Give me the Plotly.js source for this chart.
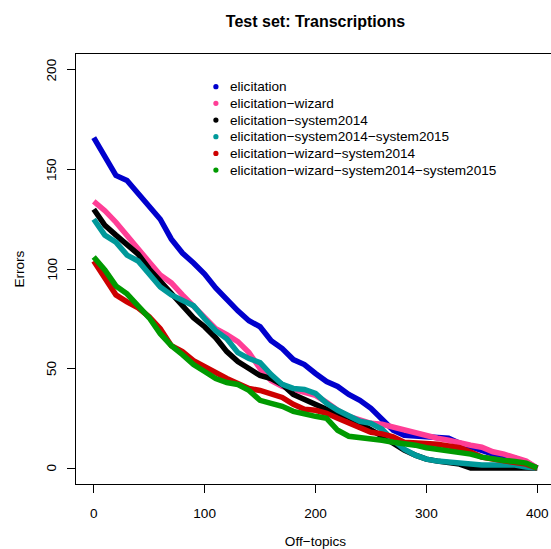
<!DOCTYPE html>
<html>
<head>
<meta charset="utf-8">
<script src="https://cdn.plot.ly/plotly-3.0.1.min.js"></script>
<style>
html, body { margin: 0; padding: 0; overflow: hidden; background: #fff; }
#chart { width: 560px; height: 549px; }
</style>
</head>
<body>
<div id="chart"></div>
<script>
// ---- data ----
const offTopics = [0,10,20,30,40,50,60,70,80,90,100,110,120,130,140,150,160,170,180,190,200,
                   210,220,230,240,250,260,270,280,290,300,310,320,330,340,350,360,370,380,390,400];

const seriesNames = [
  "elicitation",
  "elicitation−wizard",
  "elicitation−system2014",
  "elicitation−system2014−system2015",
  "elicitation−wizard−system2014",
  "elicitation−wizard−system2014−system2015"
];

const errElicitation = [166,156,147,144.5,138,131,125,115,108,103,97.5,90.5,84.5,79,74,71,64,60,54.5,52,47.5,
                        43.5,41,37,34,30,24.5,19,16.5,16,16,15.5,15,12.5,10.5,9,7,6,5,3,0];
const errWizard      = [134,129.3,123.5,116.5,110,103.5,97,93,87,81,75.5,70,67,63.5,58,50,44,41,39.5,38,36.5,
                        33,29,26,24,22.5,22,20.5,19.5,18,16,15,14,12.5,11.5,10.5,8.2,7,5.5,3.5,0];
const errSys2014     = [130,122,117,112.5,107.5,100,94,88,82.5,75.5,71,65.5,58.5,53.5,50,46.5,45,42,37,34.5,32,
                        29,27,25.5,22.5,19.5,16,12.5,9,6.5,4.5,3.5,3,2,0,0,0,0,0,0,0];
const errSys20142015 = [125,117,113.5,107,104,97,91,87,84,81.5,75,69,65,58,55,53,47,42,40,39.5,37.5,
                        32.5,29,26,23.5,22.5,19.5,14,9.5,6.5,4.5,3.5,3,2,1.5,1.5,1.5,1.5,1.5,0.5,0];
const errWizSys2014  = [104,95,87,83.5,80.5,76,70,61.5,58.5,54,51,47.5,45,42.5,40,39,37.5,35.5,32,29.5,29,
                        27.5,25,22.5,20,18,17.2,15.7,13,12.4,12.4,12,11.4,10.2,8,5.5,4.5,3.5,3,2,0];
const errWizSys20142015 = [106,99.5,91.5,87.5,81.5,75.5,67.5,61.5,57,52,48.5,45,43,42,39,34,32.5,31,28.5,27,26,
                        25,19,16,15.5,15,14,13,12.4,11.5,10.2,9.5,8.8,8.2,7,5.5,4.3,3.8,3.3,2.5,0];

const seriesValues = [errElicitation, errWizard, errSys2014, errSys20142015, errWizSys2014, errWizSys20142015];
const seriesColors = ["#0000CD", "#FF3E96", "#000000", "#00999A", "#CD0000", "#009A00"];

const xTicks = [0,100,200,300,400];
const yTicks = [0,50,100,150,200];

// ---- geometry ----
const W = 560, H = 549;
const M = { l: 75.5, r: 4.5, t: 54, b: 65 };
const plotW = W - M.l - M.r, plotH = H - M.t - M.b;
const px2paperX = px => (px - M.l) / plotW;
const py2paperY = py => (H - M.b - py) / plotH;

const FONT = "Liberation Sans, Arial, Helvetica, sans-serif";
const FS = 13.6;

const traces = seriesNames.map((name, i) => ({
  type: "scatter",
  mode: "lines",
  name: name,
  x: offTopics,
  y: seriesValues[i],
  line: { color: seriesColors[i], width: 5.5 },
  showlegend: false,
  hoverinfo: "skip"
}));

// legend drawn as annotations + dots
const legX = 215.7, legTextX = 228.5, legY0 = 86.7, legStep = 16.67;
const annotations = [];
const shapes = [];
seriesNames.forEach((name, i) => {
  const py = legY0 + i * legStep;
  annotations.push({
    xref: "paper", yref: "paper",
    x: px2paperX(legTextX), y: py2paperY(py),
    xanchor: "left", yanchor: "middle",
    text: name, showarrow: false, borderpad: 0,
    font: { family: FONT, size: FS, color: "#000" }
  });
  shapes.push({
    type: "circle", xref: "paper", yref: "paper",
    xsizemode: "pixel", ysizemode: "pixel",
    xanchor: px2paperX(legX), yanchor: py2paperY(py),
    x0: -2.6, x1: 2.6, y0: -2.6, y1: 2.6,
    fillcolor: seriesColors[i], line: { width: 0 }
  });
});

// rotated y tick labels (R style), placed on the y scale
yTicks.forEach(v => {
  annotations.push({
    xref: "paper", yref: "y",
    x: px2paperX(51), y: v,
    xanchor: "center", yanchor: "middle",
    text: String(v), textangle: -90, showarrow: false, borderpad: 0,
    font: { family: FONT, size: FS, color: "#000" }
  });
});

// y-axis title placed as rotated text
annotations.push({
  xref: "paper", yref: "paper",
  x: px2paperX(18), y: py2paperY(269),
  xanchor: "center", yanchor: "middle",
  text: "Errors", textangle: -90, showarrow: false, borderpad: 0,
  font: { family: FONT, size: FS, color: "#000" }
});

const layout = {
  width: W, height: H,
  margin: M,
  paper_bgcolor: "#fff", plot_bgcolor: "#fff",
  font: { family: FONT, size: FS, color: "#000" },
  title: {
    text: "<b>Test set: Transcriptions</b>",
    font: { family: FONT, size: 16, color: "#000" },
    x: px2paperX(315.5), xref: "paper", xanchor: "center",
    y: 1 - 21 / H, yanchor: "middle"
  },
  xaxis: {
    range: [-16, 416], tickvals: xTicks, ticktext: xTicks.map(String),
    showgrid: false, zeroline: false,
    showline: true, mirror: true, linecolor: "#000", linewidth: 1,
    ticks: "outside", ticklen: 8, tickcolor: "#000", tickwidth: 1,
    ticklabelstandoff: 9,
    tickfont: { family: FONT, size: FS, color: "#000" },
    title: { text: "Off−topics", standoff: 17, font: { family: FONT, size: FS, color: "#000" } },
    automargin: false, fixedrange: true
  },
  yaxis: {
    range: [-8, 208], tickvals: yTicks,
    showticklabels: false,
    showgrid: false, zeroline: false,
    showline: true, mirror: true, linecolor: "#000", linewidth: 1,
    ticks: "outside", ticklen: 8, tickcolor: "#000", tickwidth: 1,
    automargin: false, fixedrange: true
  },
  annotations: annotations,
  shapes: shapes,
  showlegend: false
};

Plotly.newPlot("chart", traces, layout, { displayModeBar: false, staticPlot: true });
</script>
</body>
</html>
